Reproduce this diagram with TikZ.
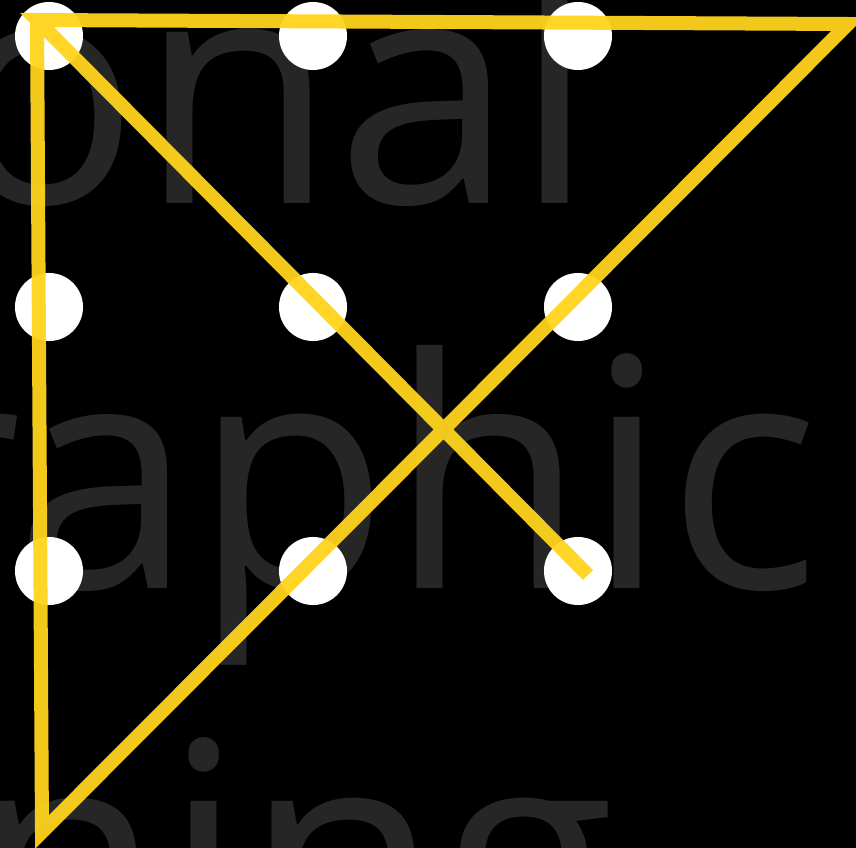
\documentclass[tikz,border=0pt]{standalone}
\usepackage{fontspec}
\setmainfont{Open Sans}
\usetikzlibrary{positioning}
\definecolor{trailyellow}{HTML}{FFD41C}
\definecolor{wordgrey}{HTML}{262626}
\tikzset{
    dot/.style={circle, fill=white, minimum size=0.68cm, inner sep=0pt},
    bigword/.style={anchor=base west, inner sep=0pt, text=wordgrey, font=\fontsize{91}{91}\selectfont},
    trail/.style={trailyellow, line width=0.14cm, opacity=0.95, line join=miter}
}

\begin{document}
\begin{tikzpicture}[x=0.01cm,y=-0.01cm]
\fill[black] (0,0) rectangle (856,848);
\useasboundingbox (0,0) rectangle (856,848);
\clip (0,0) rectangle (856,848);

% words behind
\node[bigword] (word1) at (-54,203) {onal};
\node[bigword] (word2) at (-109,588) {raphic};
\node[bigword] (word3) at (-34,973) {ning};

% nine dots
\foreach \r/\y in {1/36,2/307,3/571}{
    \foreach \c/\x in {1/49,2/313,3/578}{
        \node[dot] (d\r\c) at (\x,\y) {};
    }
}

% the four strokes
\coordinate (tl) at (37,20);
\coordinate (tr) at (848,24);
\coordinate (bl) at (42,832);
\coordinate (go) at (588,575);
\draw[trail] (go) -- (tl) -- (tr) -- (bl) -- (tl);
\end{tikzpicture}
\end{document}
